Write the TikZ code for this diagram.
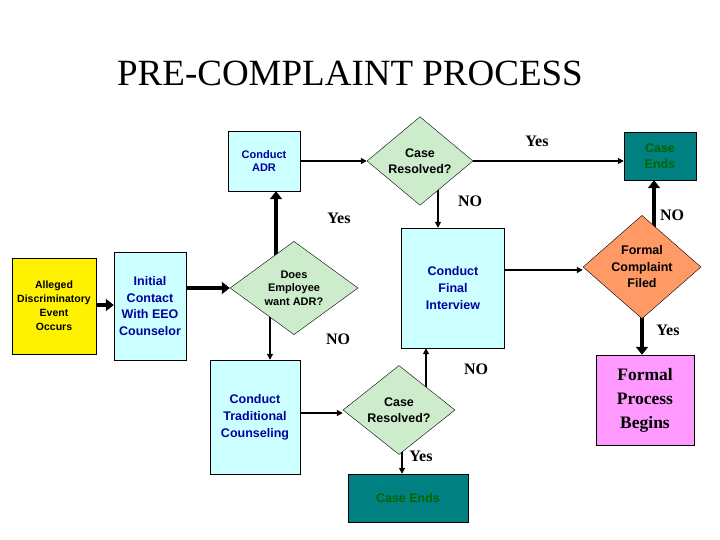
\documentclass[tikz,border=0pt]{standalone}
\usepackage{fontspec}
\setmainfont{Liberation Sans}
\newfontfamily\serifF{Liberation Serif}
\usetikzlibrary{shapes.geometric,arrows.meta,backgrounds}
\definecolor{lcyan}{RGB}{204,255,255}
\definecolor{lgreen}{RGB}{204,236,204}
\definecolor{teal2}{RGB}{0,128,128}
\definecolor{dgreen}{RGB}{0,102,0}
\definecolor{orng}{RGB}{255,153,102}
\definecolor{pnk}{RGB}{255,153,255}
\definecolor{dblue}{RGB}{0,0,160}
\begin{document}
\begin{tikzpicture}[x=1pt,y=-1pt,
 box/.style={draw=black,thin,align=center,inner sep=0pt,font=\bfseries\fontsize{11}{13}\selectfont},
 dia/.style={diamond,draw=black,thin,fill=lgreen,align=center,inner sep=0pt,font=\bfseries\fontsize{11}{13.5}\selectfont},
 lab/.style={font=\serifF\bfseries\fontsize{16}{18}\selectfont},
 thin arr/.style={draw,line width=1.4pt,-{Triangle[length=6pt,width=6pt]}},
 thick arr/.style={draw,line width=4pt,-{Triangle[length=8pt,width=12pt]}}]
\useasboundingbox (0,0) rectangle (720,540);
\node[font=\serifF\fontsize{37}{40}\selectfont] (title) at (350,73) {PRE-COMPLAINT PROCESS};
\node[box,fill=yellow,minimum width=84pt,minimum height=96pt,font=\bfseries\fontsize{10.5}{14}\selectfont] (ev) at (54,306) {Alleged\\Discriminatory\\Event\\Occurs};
\node[box,fill=lcyan,text=dblue,minimum width=72pt,minimum height=108pt,font=\bfseries\fontsize{12.5}{16.5}\selectfont] (ic) at (150,306) {Initial\\Contact\\With EEO\\Counselor};
\node[dia,minimum width=128pt,minimum height=71pt] (dw) at (294,288) {Does\\Employee\\want ADR?};
\node[box,fill=lcyan,text=dblue,minimum width=72pt,minimum height=60pt] (adr) at (264,161) {Conduct\\ADR};
\node[dia,minimum width=106pt,minimum height=83pt,font=\bfseries\fontsize{12.5}{16.5}\selectfont] (cr1) at (420,161) {Case\\Resolved?};
\node[box,fill=teal2,text=dgreen,minimum width=72pt,minimum height=48pt,font=\bfseries\fontsize{12.5}{16.5}\selectfont] (ce1) at (660,156) {Case\\Ends};
\node[box,fill=lcyan,text=dblue,minimum width=103pt,minimum height=120pt,font=\bfseries\fontsize{12.5}{17}\selectfont] (fi) at (453,288) {Conduct\\Final\\Interview};
\node[dia,fill=orng,minimum width=118pt,minimum height=90pt,font=\bfseries\fontsize{12.5}{16.5}\selectfont] (fc) at (642,267) {Formal\\Complaint\\Filed};
\node[box,fill=pnk,minimum width=98pt,minimum height=90pt,font=\serifF\bfseries\fontsize{17.5}{24}\selectfont] (fp) at (645,400) {Formal\\Process\\Begins};
\node[box,fill=lcyan,text=dblue,minimum width=90pt,minimum height=114pt,font=\bfseries\fontsize{12.5}{17}\selectfont] (tc) at (255,417) {Conduct\\Traditional\\Counseling};
\node[dia,minimum width=112pt,minimum height=89pt,font=\bfseries\fontsize{12.5}{16.5}\selectfont] (cr2) at (399,410) {Case\\Resolved?};
\node[box,fill=teal2,text=dgreen,minimum width=120pt,minimum height=48pt,font=\bfseries\fontsize{12.5}{16.5}\selectfont] (ce2) at (408,498) {Case Ends};
\begin{scope}[on background layer]
\draw[thick arr] (ev.east |- 0,305) -- (ic.west |- 0,305);
\draw[thick arr] (ic.east |- dw) -- (dw.west);
\draw[thick arr] ([xshift=-18pt]dw.center) -- ([xshift=12pt]adr.south);
\draw[thin arr] (adr.east) -- (cr1.west);
\draw[thin arr] (cr1.east) -- (ce1.west |- cr1);
\draw[thin arr] ([xshift=18pt]cr1.center) -- ([xshift=-15pt]fi.north);
\draw[thin arr] (fi.east |- 0,270) -- (fc.west |- 0,270);
\draw[thick arr] ([xshift=12pt]fc.center) -- ([xshift=-6pt]ce1.south);
\draw[thick arr] (fc.center) -- ([xshift=-3pt]fp.north);
\draw[thin arr] ([xshift=-24pt]dw.center) -- ([xshift=15pt]tc.north);
\draw[thin arr] (tc.east |- 0,413) -- (cr2.west |- 0,413);
\draw[thin arr] ([xshift=27pt]cr2.center) -- ([xshift=-27pt]fi.south);
\draw[thin arr] ([xshift=3pt]cr2.center) -- ([xshift=-6pt]ce2.north);
\end{scope}
\node[lab] (l1) at (537,141) {Yes};
\node[lab] (l2) at (470,201) {NO};
\node[lab] (l3) at (339,218) {Yes};
\node[lab] (l4) at (672,215) {NO};
\node[lab] (l5) at (338,339) {NO};
\node[lab] (l6) at (668,330) {Yes};
\node[lab] (l7) at (476,369) {NO};
\node[lab] (l8) at (421,456) {Yes};
\end{tikzpicture}
\end{document}
